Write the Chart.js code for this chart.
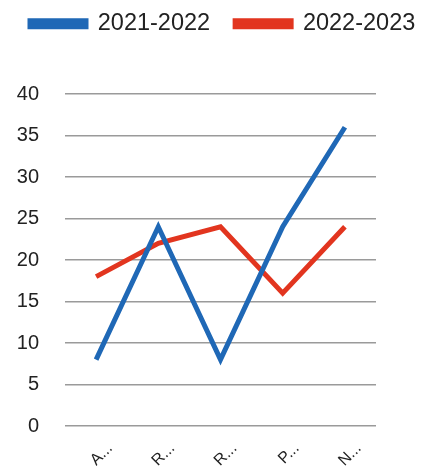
<!DOCTYPE html>
<html>
<head>
<meta charset="utf-8">
<script src="https://cdn.jsdelivr.net/npm/chart.js@4"></script>
<style>
  html, body { margin: 0; padding: 0; background: #fff; }
  #wrap { width: 421px; height: 468px; }
</style>
</head>
<body>
<div id="wrap"><canvas id="lineChart" width="421" height="468"></canvas></div>
<script>
// chart data
const categories = ['A...', 'R...', 'R...', 'P...', 'N...'];
const series2122 = [8, 24, 8, 24, 36];
const series2223 = [18, 22, 24, 16, 24];
const yTicks = [0, 5, 10, 15, 20, 25, 30, 35, 40];

// one legend row across the whole width, plot starts below it
const legendRow = {
  id: 'legendRow',
  beforeInit(chart) {
    const fit = chart.legend.fit;
    chart.legend.fit = function () {
      this.maxWidth = 1000;
      fit.bind(chart.legend)();
      this.height = 94;
    };
  },
  afterLayout(chart) {
    const lg = chart.legend;
    lg.left = 5;
    lg.right = 480;
    lg.top = -13;
  }
};

new Chart(document.getElementById('lineChart').getContext('2d'), {
  type: 'line',
  data: {
    labels: categories,
    datasets: [{
      label: '2021-2022',
      data: series2122,
      borderColor: '#1f68b6',
      backgroundColor: '#1f68b6',
      borderWidth: 5,
      pointRadius: 0,
      tension: 0
    }, {
      label: '2022-2023',
      data: series2223,
      borderColor: '#e2351f',
      backgroundColor: '#e2351f',
      borderWidth: 5,
      pointRadius: 0,
      tension: 0
    }]
  },
  options: {
    responsive: false,
    animation: false,
    layout: { padding: { top: 0, left: 17, right: 0, bottom: 0 } },
    plugins: {
      legend: {
        position: 'top',
        align: 'start',
        labels: {
          boxWidth: 56,
          boxHeight: 6,
          padding: 25,
          color: '#222',
          font: { family: 'Liberation Sans', size: 23.5 }
        }
      },
      tooltip: { enabled: false }
    },
    scales: {
      x: {
        offset: true,
        grid: { display: false },
        border: { display: false },
        ticks: {
          minRotation: 45,
          maxRotation: 45,
          labelOffset: 14,
          padding: 5,
          color: '#222',
          font: { family: 'Liberation Sans', size: 16 }
        },
        afterFit(axis) {
          axis.paddingLeft = 0;
          axis.paddingRight = 0;
          axis.height = 42;
        }
      },
      y: {
        min: 0,
        max: 40,
        afterBuildTicks(axis) { axis.ticks = yTicks.map(v => ({ value: v })); },
        afterFit(axis) { axis.width = 48; },
        border: { display: false },
        grid: { color: '#9a9a9a', lineWidth: 1.5, drawTicks: false },
        ticks: {
          padding: 26,
          color: '#222',
          font: { family: 'Liberation Sans', size: 20 }
        }
      },
      // empty right axis, only keeps space to the right of the plot
      yRight: {
        position: 'right',
        grid: { display: false },
        border: { display: false },
        ticks: { display: false },
        afterFit(axis) { axis.width = 45; }
      }
    }
  },
  plugins: [legendRow]
});
</script>
</body>
</html>
